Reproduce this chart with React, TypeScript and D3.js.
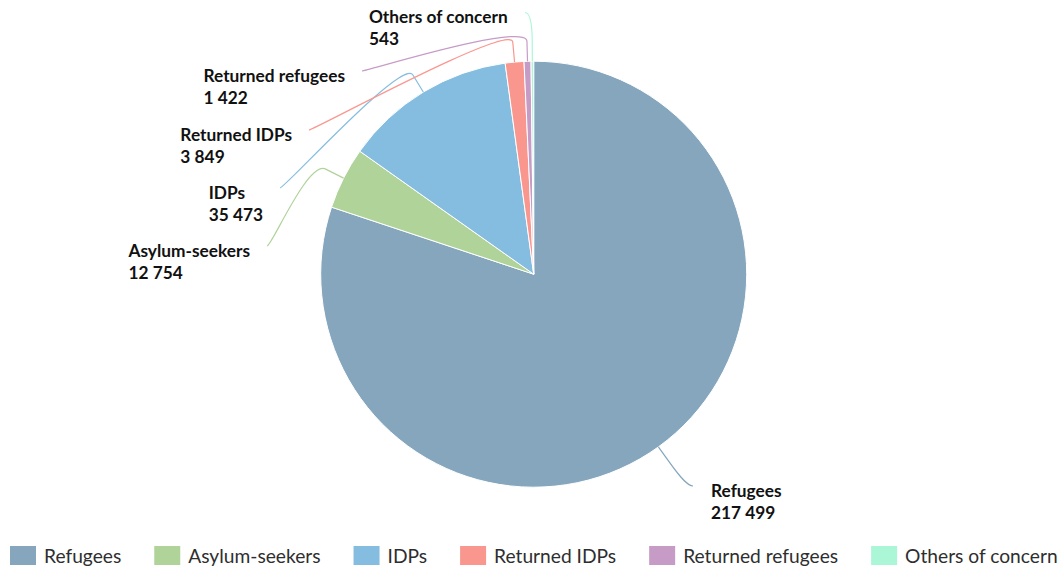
import React from 'react';
import * as d3 from 'd3';

const categories = ['Refugees', 'Asylum-seekers', 'IDPs', 'Returned IDPs', 'Returned refugees', 'Others of concern'];
const values = [217499, 12754, 35473, 3849, 1422, 543];
const colors = ['#85a6bd', '#b0d399', '#85bde0', '#f9978f', '#c69cc6', '#acf6d8'];

// label layout: connector end points (where each label's connector starts)
const labelAnchors: [number, number][] = [
  [693, 486],
  [267, 246],
  [280, 188],
  [309, 130],
  [362, 71],
  [525, 12.5],
];

const W = 1062;
const H = 569;
const CX = 533.7;
const CY = 274.2;
const R = 213;
const BREAK = 20;
const LABEL_SIZE = 17.3;
const LEGEND_SIZE = 19.2;
const LABEL_FONT = `bold ${LABEL_SIZE}px Lato`;
const LEGEND_FONT = `${LEGEND_SIZE}px Lato`;

let ctx: CanvasRenderingContext2D | null = null;
function measure(text: string, font: string): number {
  if (!ctx) ctx = document.createElement('canvas').getContext('2d');
  if (!ctx) return text.length * 8;
  ctx.font = font;
  return ctx.measureText(text).width;
}

const fmt = (v: number) => d3.format(',')(v).replace(/,/g, ' ');

export default function App() {
  const pie = d3.pie<number>().sort(null).value((d) => d).startAngle(0).endAngle(2 * Math.PI);
  const arcs = pie(values);
  const arcGen = d3.arc<d3.PieArcDatum<number>>().innerRadius(0).outerRadius(R);
  const pt = (a: number, r: number): [number, number] => [CX + r * Math.sin(a), CY - r * Math.cos(a)];

  // legend layout
  const swW = 26, swH = 19, gapText = 8, gapItem = 33;
  let lx = 10;
  const legendItems = categories.map((c, i) => {
    const item = { x: lx, c, color: colors[i] };
    lx += swW + gapText + measure(c, LEGEND_FONT) + gapItem;
    return item;
  });

  return (
    <svg width={W} height={H} style={{ position: 'absolute', left: 0, top: 0, background: '#fff' }}>
      <g>
        {arcs.map((a, i) => (
          <path key={i} d={arcGen(a) || ''} transform={`translate(${CX},${CY})`} fill={colors[i]} stroke="#fff" strokeWidth={1} strokeLinejoin="round" />
        ))}
      </g>
      <g>
        {arcs.map((a, i) => {
          const mid = (a.startAngle + a.endAngle) / 2;
          const [tx, ty] = pt(mid, R);
          const [bx, by] = pt(mid, R + BREAK);
          const [ax, ay] = labelAnchors[i];
          const rightSide = mid < Math.PI;
          const d = `M${ax},${ay} C${ax + (rightSide ? -5 : 5)},${ay} ${2 * bx - tx},${2 * by - ty} ${bx},${by} L${tx},${ty}`;
          const line1 = categories[i];
          const line2 = fmt(values[i]);
          const w = Math.max(measure(line1, LABEL_FONT), measure(line2, LABEL_FONT));
          const textX = rightSide ? ax + 18 : ax - 17 - w;
          return (
            <g key={i}>
              <path d={d} fill="none" stroke={colors[i]} strokeWidth={1.2} />
              <text x={textX} y={ay + 10.5} fontFamily="Lato" fontWeight="bold" fontSize={LABEL_SIZE} fill="#111">
                <tspan x={textX}>{line1}</tspan>
                <tspan x={textX} dy={22}>{line2}</tspan>
              </text>
            </g>
          );
        })}
      </g>
      <g>
        {legendItems.map((it, i) => (
          <g key={i}>
            <rect x={it.x} y={546} width={swW} height={swH} fill={it.color} />
            <text x={it.x + swW + gapText} y={562.5} fontFamily="Lato" fontSize={LEGEND_SIZE} fill="#2e2e2e">{it.c}</text>
          </g>
        ))}
      </g>
    </svg>
  );
}
